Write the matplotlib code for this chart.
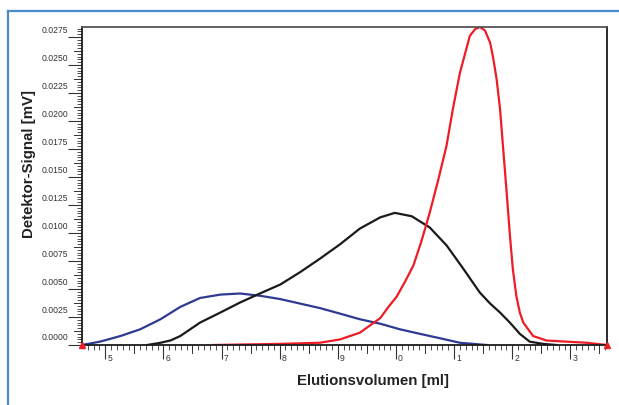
import numpy as np
import matplotlib
matplotlib.use("Agg")
import matplotlib.pyplot as plt
from matplotlib.lines import Line2D
import matplotlib.transforms as mtransforms

plt.rcParams['font.family'] = ['Liberation Sans', 'DejaVu Sans']

# values (elution volume in ml, signal in mV)
blue_x = [4.60, 4.91, 5.26, 5.60, 5.95, 6.29, 6.63, 6.98, 7.32, 7.66, 8.01,
          8.35, 8.69, 9.04, 9.38, 9.73, 10.07, 10.41, 10.76, 11.10, 11.56]
blue_y = [0.0, 0.0003, 0.0008, 0.0014, 0.0023, 0.0034, 0.0042, 0.0045, 0.0046,
          0.0044, 0.0041, 0.0037, 0.0033, 0.0028, 0.0023, 0.0019, 0.0014,
          0.0010, 0.0006, 0.0002, 0.0]

black_x = [5.72, 5.95, 6.12, 6.29, 6.46, 6.63, 6.98, 7.32, 7.66, 8.01, 8.35,
           8.69, 9.04, 9.38, 9.73, 9.98, 10.27, 10.58, 10.87, 11.16, 11.44,
           11.62, 11.79, 11.96, 12.13, 12.30, 12.53, 12.76]
black_y = [0.0, 0.0002, 0.0004, 0.0008, 0.0014, 0.0020, 0.0029, 0.0038, 0.0046,
           0.0054, 0.0065, 0.0077, 0.0090, 0.0104, 0.0114, 0.0118, 0.0115,
           0.0105, 0.0089, 0.0068, 0.0047, 0.0037, 0.0029, 0.0020, 0.0010,
           0.0003, 0.0001, 0.0]

red_x = [6.86, 8.01, 8.69, 9.04, 9.38, 9.73, 9.87, 10.01, 10.15, 10.30, 10.44,
         10.58, 10.73, 10.87, 10.98, 11.10, 11.27, 11.36, 11.44, 11.53, 11.62,
         11.67, 11.73, 11.79, 11.84, 11.90, 11.96, 12.01, 12.07, 12.13, 12.19,
         12.36, 12.59, 12.93, 13.28, 13.62]
red_y = [0.0, 0.0001, 0.0002, 0.0005, 0.0011, 0.0024, 0.0034, 0.0043, 0.0056,
         0.0071, 0.0093, 0.0118, 0.0148, 0.0178, 0.0211, 0.0243, 0.0276,
         0.0282, 0.0284, 0.0281, 0.0270, 0.0257, 0.0238, 0.0211, 0.0178,
         0.0139, 0.0098, 0.0068, 0.0044, 0.0029, 0.0020, 0.0008, 0.0004,
         0.0003, 0.0002, 0.0]

x_ticks = [5, 6, 7, 8, 9, 10, 11, 12, 13]
x_labels = ['5', '6', '7', '8', '9', '0', '1', '2', '3']
y_ticks = [0.0, 0.0025, 0.005, 0.0075, 0.01, 0.0125, 0.015, 0.0175, 0.02,
           0.0225, 0.025, 0.0275]

W, H = 619, 406
fig = plt.figure(figsize=(W / 100, H / 100), dpi=100)
ax = fig.add_axes([82 / W, (H - 346) / H, (607 - 82) / W, (346 - 28) / H])

xmin, xmax = 4.60, 13.63
ymax = 0.0284
ax.set_xlim(xmin, xmax)
ax.set_ylim(0, ymax)

ax.plot(blue_x, blue_y, color='#2e3a92', lw=1.6, solid_joinstyle='round')
ax.plot(black_x, black_y, color='#1a1a1a', lw=1.6, solid_joinstyle='round')
ax.plot(red_x, red_y, color='#ee1c25', lw=1.6, solid_joinstyle='round')
ax.plot([xmin, xmax], [0, 0], ls='none', marker='^', color='#ee1c25',
        markersize=5, clip_on=False, zorder=5)

for s in ax.spines.values():
    s.set_color('#1a1a1a')
    s.set_linewidth(1.3)
ax.spines['top'].set_color('#555555')

# ticks
ax.set_xticks(x_ticks)
ax.set_xticklabels([])
ax.set_xticks(np.arange(4.7, 13.65, 0.1), minor=True)
ax.set_yticks(y_ticks)
ax.set_yticklabels([])
ax.set_yticks(np.arange(0, 0.0284, 0.00025), minor=True)
ax.tick_params(axis='both', which='major', length=10, width=0.8, color='#333333')
ax.tick_params(axis='both', which='minor', length=3.5, width=0.6, color='#333333')

# medium ticks at half steps
bx = mtransforms.blended_transform_factory(ax.transData, ax.transAxes)
by = mtransforms.blended_transform_factory(ax.transAxes, ax.transData)
dy = 8 / (346 - 28)
dx = 8 / (607 - 82)
for v in np.arange(4.5, 14, 1.0):
    if xmin < v < xmax:
        ax.add_line(Line2D([v, v], [0, -dy], transform=bx, color='#333333',
                           lw=0.7, clip_on=False))
for v in np.arange(0.00125, 0.0284, 0.0025):
    ax.add_line(Line2D([0, -dx], [v, v], transform=by, color='#333333',
                       lw=0.7, clip_on=False))

# tick labels: y labels sit a little above their ticks, x labels right of ticks
off_y = mtransforms.offset_copy(by, fig=fig, x=-14, y=8, units='dots')
for v in y_ticks:
    ax.text(0, v, '%.4f' % v, transform=off_y, ha='right', va='center',
            fontsize=6.2, color='#333333')
off_x = mtransforms.offset_copy(bx, fig=fig, x=2, y=-8, units='dots')
for v, t in zip(x_ticks, x_labels):
    ax.text(v, 0, t, transform=off_x, ha='left', va='top',
            fontsize=6.2, color='#333333')

fig.text(373 / W, 1 - 381 / H, 'Elutionsvolumen [ml]', ha='center', va='center',
         fontsize=10.8, fontweight='bold', color='#222222')
fig.text(29 / W, 1 - 164 / H, 'Detektor-Signal [mV]', ha='center', va='center',
         rotation=90, fontsize=10.8, fontweight='bold', color='#222222')

# blue frame around the figure
frame_c = '#4a8cc9'
fig.add_artist(Line2D([7.5 / W, 7.5 / W], [0, 1 - 12 / H], color=frame_c, lw=1.6,
                      transform=fig.transFigure))
fig.add_artist(Line2D([7.5 / W, 1], [1 - 12 / H, 1 - 12 / H], color=frame_c, lw=1.6,
                      transform=fig.transFigure))

fig.savefig('out.png', dpi=100)
